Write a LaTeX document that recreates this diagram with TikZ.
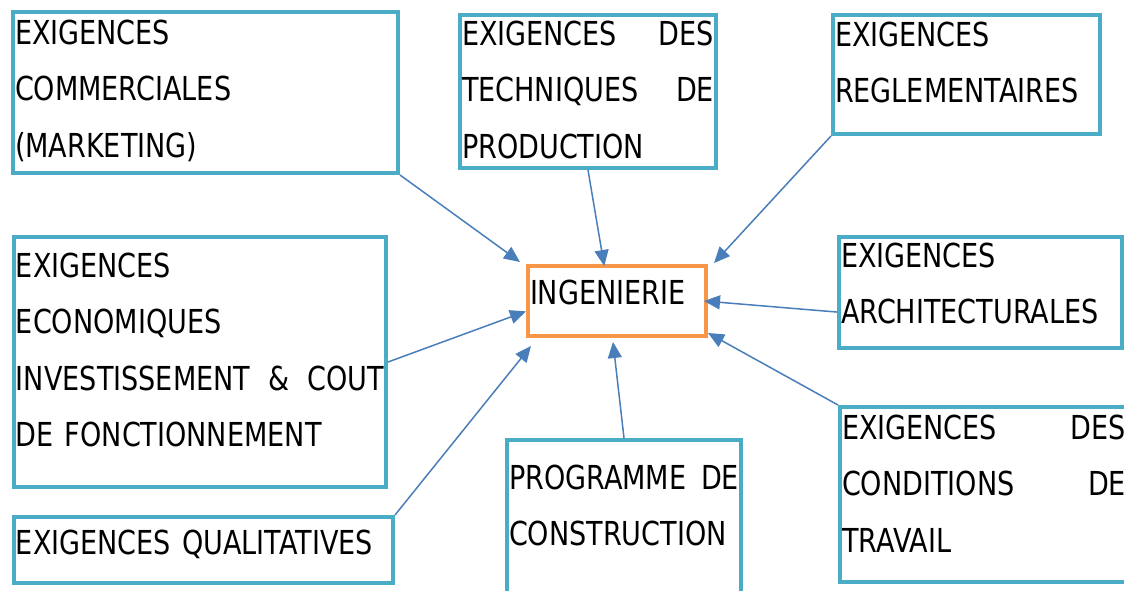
\documentclass[tikz,border=0pt]{standalone}
\usepackage{fontspec}
\setmainfont{DejaVu Sans}[FakeStretch=0.82]
\usetikzlibrary{calc,arrows.meta}
\definecolor{cadre}{HTML}{4BACC6}
\definecolor{ingorange}{HTML}{F79646}
\definecolor{fleche}{HTML}{4A7EBB}
\tikzset{
	exig/.style n args = {3}{shape=rectangle, draw=cadre, line width=4pt,
		anchor=north west, align=left,
		inner xsep=2pt, inner ysep=0pt,
		font=\fontsize{33}{56.5}\selectfont,
		text width=#1pt, text height=#2pt, text depth=#3pt},
	ingen/.style n args = {3}{exig={#1}{#2}{#3}, draw=ingorange},
	lien/.style = {draw=fleche, line width=1.5pt,
		-{Triangle[length=16pt,width=14pt]}}
}

\begin{document}
\begin{tikzpicture}[x=1pt, y=-1pt]
	\path [use as bounding box, fill=white] (0,0) rectangle (1124,590);
	\clip (0,0) rectangle (1124,590);
	\node [ingen={174}{38}{32}] at (526,264) (ing) {INGENIERIE};
	\node [exig={381}{32}{129}] at (11,10) (comm) {EXIGENCES\\COMMERCIALES\\(MARKETING)};
	\node [exig={252}{30}{123}] at (458,13) (tech) {EXIGENCES\hspace{\fill}DES\\TECHNIQUES\hspace{\fill}DE\\PRODUCTION};
	\node [exig={263}{31}{88}] at (831,13) (regl) {EXIGENCES\\REGLEMENTAIRES};
	\node [exig={368}{40}{210}] at (12,235) (econ) {EXIGENCES\\ECONOMIQUES\\INVESTISSEMENT\hspace{\fill}\&\hspace{\fill}COUT\\DE FONCTIONNEMENT};
	\node [exig={279}{30}{81}] at (837,235) (arch) {EXIGENCES\\ARCHITECTURALES};
	\node [exig={375}{37}{29}] at (12,515) (qual) {EXIGENCES QUALITATIVES};
	\node [exig={230}{49}{121}] at (505,438) (prog) {PROGRAMME\hspace{\fill}DE\\CONSTRUCTION};
	\node [exig={284}{32}{143}] at (838,405) (cond) {EXIGENCES\hspace{\fill}DES\\CONDITIONS\hspace{\fill}DE\\TRAVAIL};

	\draw [lien] (comm.south east) -- ([shift={(-6,-2)}]ing.north west);
	\draw [lien] (tech.south) -- ($(ing.north west)!0.43!(ing.north east)+(0,2)$);
	\draw [lien] (regl.south west) -- ([shift={(6,-1)}]ing.north east);
	\draw [lien] ($(arch.north west)!0.67!(arch.south west)$) -- ([xshift=-4pt]ing.east);
	\draw [lien] (cond.north west) -- ([shift={(0,-5)}]ing.south east);
	\draw [lien] (prog.north) -- ([shift={(-4,4)}]ing.south);
	\draw [lien] (qual.north east) -- ([shift={(5,8)}]ing.south west);
	\draw [lien] (econ.east) -- ($(ing.north west)!0.64!(ing.south west)$);
\end{tikzpicture}
\end{document}
